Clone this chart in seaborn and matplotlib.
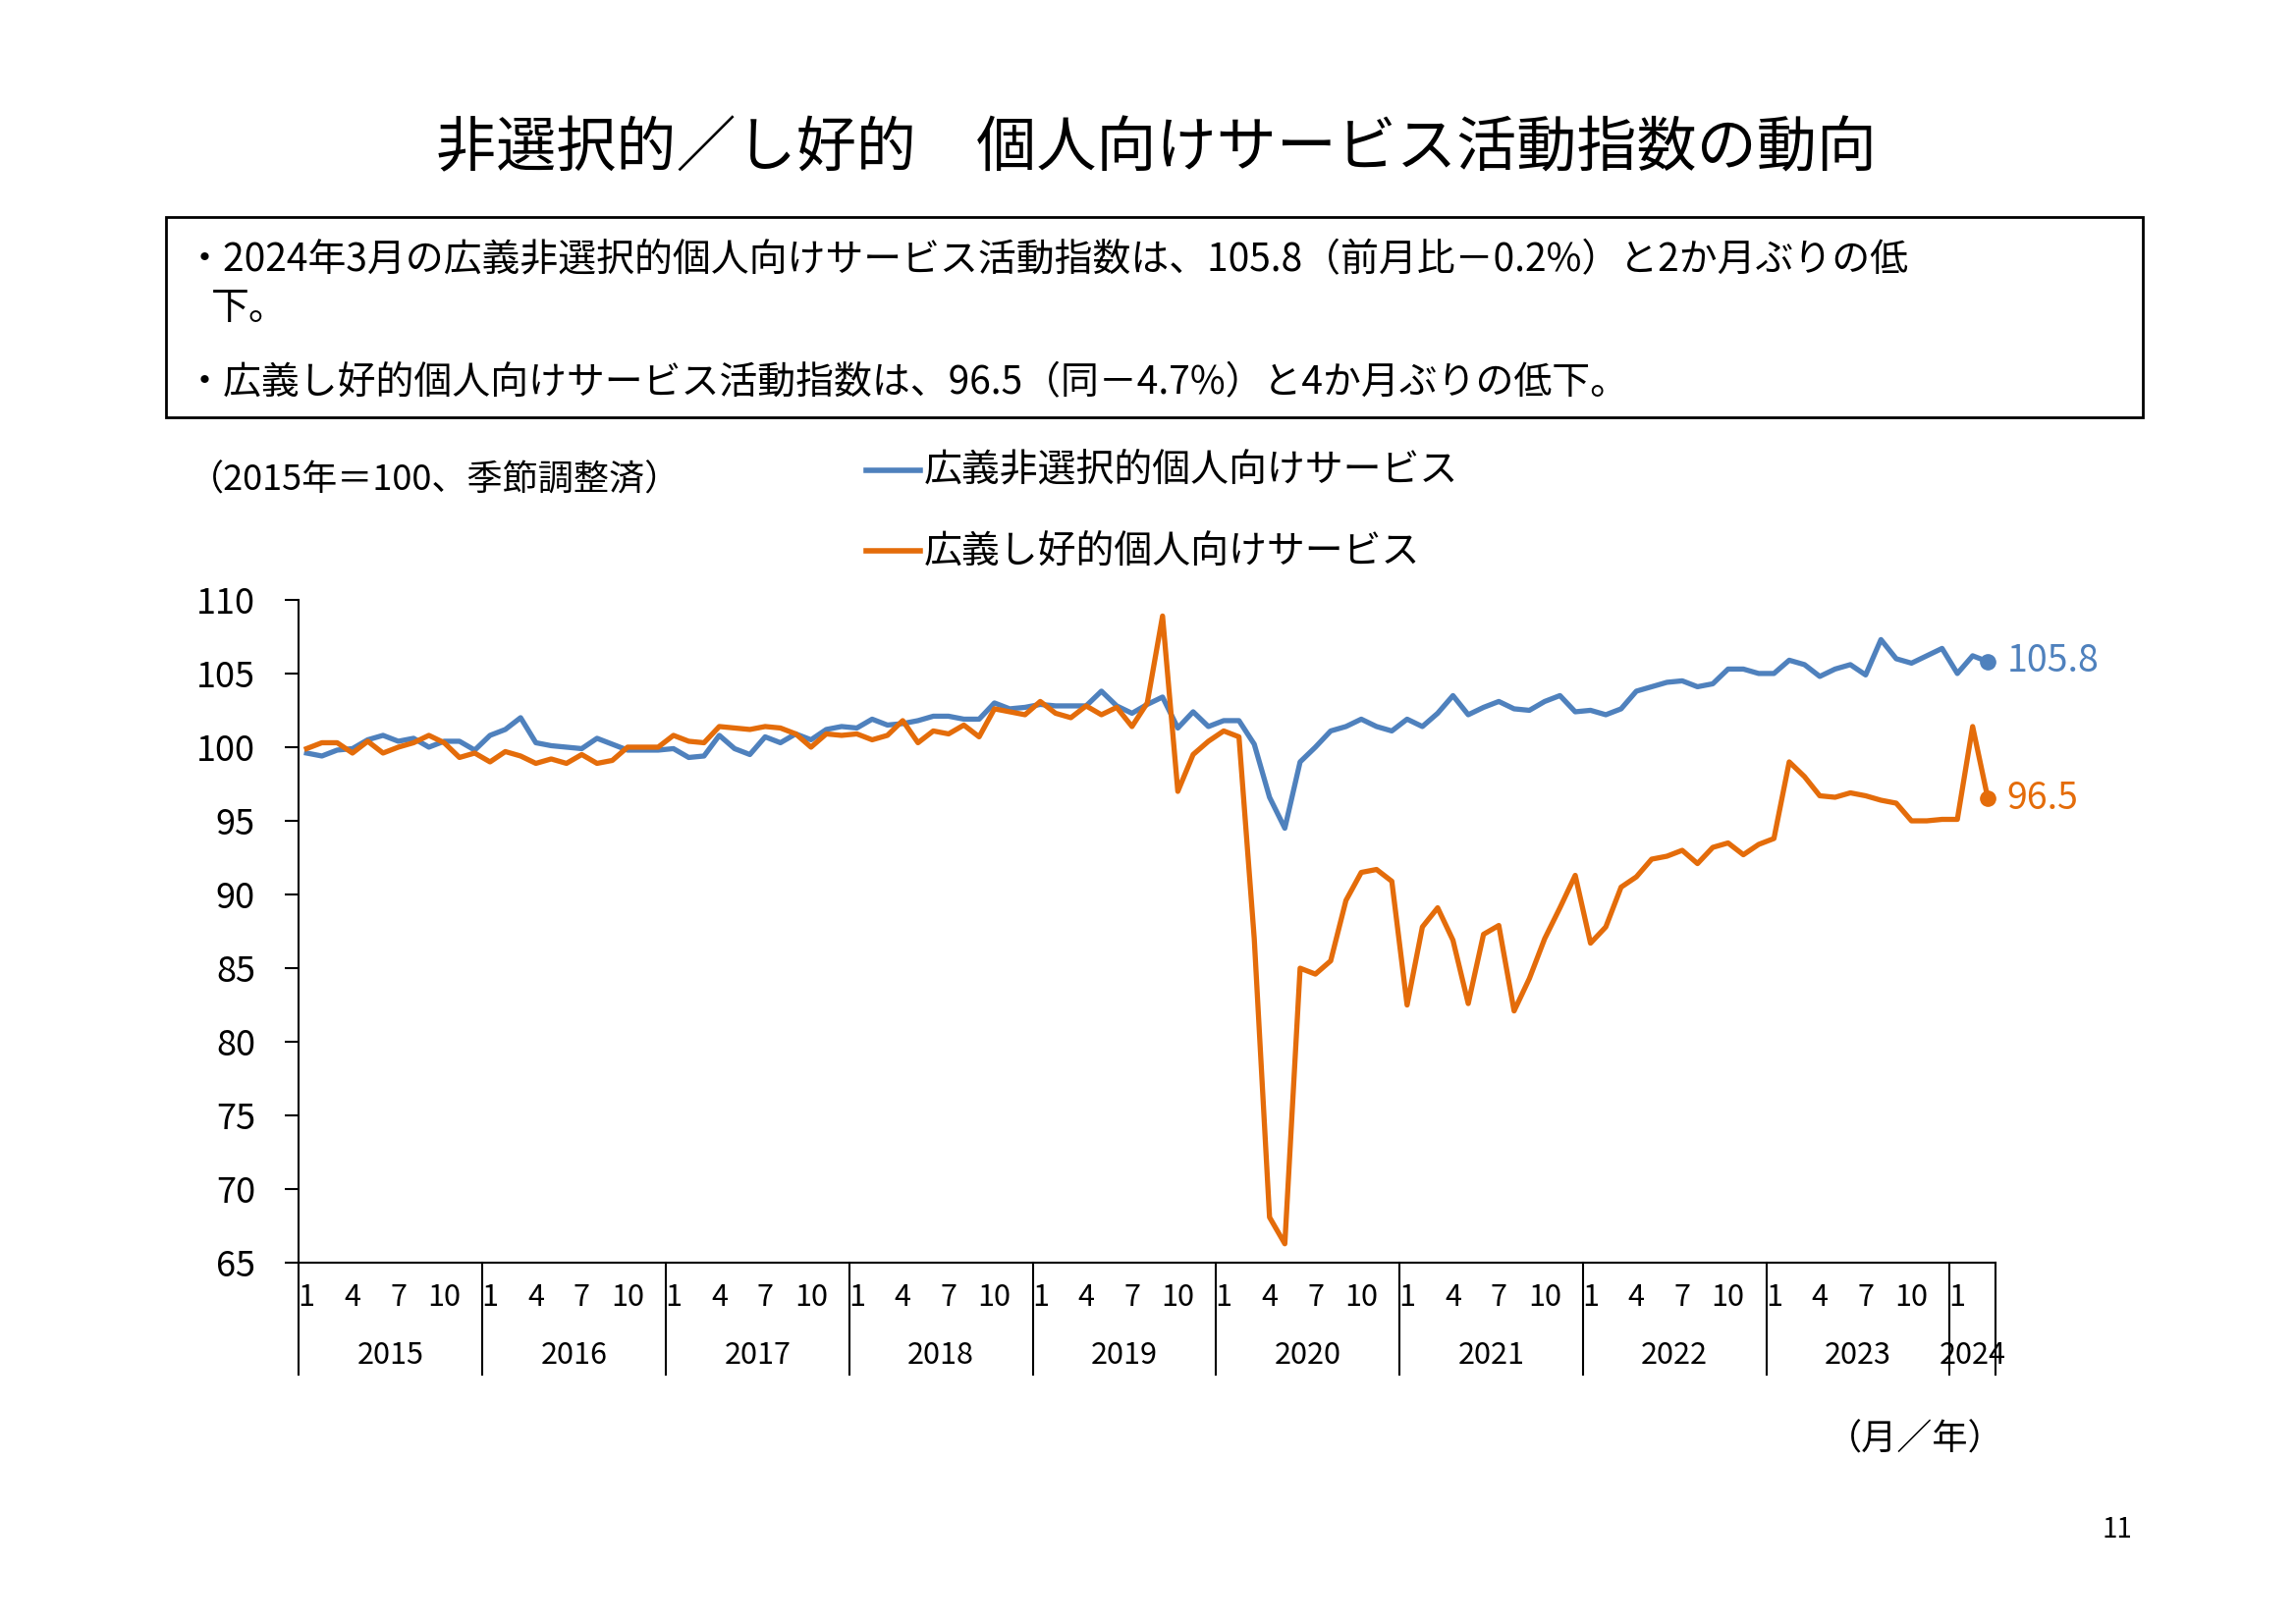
import matplotlib
matplotlib.use("Agg")
import matplotlib.pyplot as plt
import matplotlib.transforms as mtransforms
from matplotlib.lines import Line2D
from matplotlib.patches import Rectangle
import numpy as np
import pandas as pd
import seaborn as sns

plt.rcParams["font.family"] = ["Noto Sans CJK JP", "DejaVu Sans"]

# Monthly index, Jan 2015 - Mar 2024 (2015 = 100, seasonally adjusted)
years = list(range(2015, 2025))
month_ticks = [1, 4, 7, 10]

non_selective = [
    99.6, 99.4, 99.8, 99.9, 100.5, 100.8, 100.4, 100.6, 100.0, 100.4, 100.4, 99.8,
    100.8, 101.2, 102.0, 100.3, 100.1, 100.0, 99.9, 100.6, 100.2, 99.8, 99.8, 99.8,
    99.9, 99.3, 99.4, 100.8, 99.9, 99.5, 100.7, 100.3, 100.9, 100.5, 101.2, 101.4,
    101.3, 101.9, 101.5, 101.6, 101.8, 102.1, 102.1, 101.9, 101.9, 103.0, 102.6, 102.7,
    102.9, 102.8, 102.8, 102.8, 103.8, 102.8, 102.3, 102.9, 103.4, 101.3, 102.4, 101.4,
    101.8, 101.8, 100.2, 96.6, 94.5, 99.0, 100.0, 101.1, 101.4, 101.9, 101.4, 101.1,
    101.9, 101.4, 102.3, 103.5, 102.2, 102.7, 103.1, 102.6, 102.5, 103.1, 103.5, 102.4,
    102.5, 102.2, 102.6, 103.8, 104.1, 104.4, 104.5, 104.1, 104.3, 105.3, 105.3, 105.0,
    105.0, 105.9, 105.6, 104.8, 105.3, 105.6, 104.9, 107.3, 106.0, 105.7, 106.2, 106.7,
    105.0, 106.2, 105.8,
]
hobby = [
    99.9, 100.3, 100.3, 99.6, 100.4, 99.6, 100.0, 100.3, 100.8, 100.3, 99.3, 99.6,
    99.0, 99.7, 99.4, 98.9, 99.2, 98.9, 99.5, 98.9, 99.1, 100.0, 100.0, 100.0,
    100.8, 100.4, 100.3, 101.4, 101.3, 101.2, 101.4, 101.3, 100.9, 100.0, 100.9, 100.8,
    100.9, 100.5, 100.8, 101.8, 100.3, 101.1, 100.9, 101.5, 100.7, 102.6, 102.4, 102.2,
    103.1, 102.3, 102.0, 102.8, 102.2, 102.7, 101.4, 103.0, 108.9, 97.0, 99.5, 100.4,
    101.1, 100.7, 87.0, 68.1, 66.3, 85.0, 84.6, 85.5, 89.6, 91.5, 91.7, 90.9,
    82.5, 87.8, 89.1, 86.9, 82.6, 87.3, 87.9, 82.1, 84.3, 87.0, 89.1, 91.3,
    86.7, 87.8, 90.5, 91.2, 92.4, 92.6, 93.0, 92.1, 93.2, 93.5, 92.7, 93.4,
    93.8, 99.0, 98.0, 96.7, 96.6, 96.9, 96.7, 96.4, 96.2, 95.0, 95.0, 95.1,
    95.1, 101.4, 96.5,
]
series_names = ["広義非選択的個人向けサービス", "広義し好的個人向けサービス"]
colors = ["#4F81BD", "#E46C0A"]

W, H = 1559.0, 1102.0  # layout measured on reference


def fx(x):
    return x / W


def fy(y):
    return 1 - y / H


n = len(non_selective)
df = pd.DataFrame({
    "k": list(range(n)) * 2,
    "value": non_selective + hobby,
    "series": [series_names[0]] * n + [series_names[1]] * n,
})

fig = plt.figure(figsize=(23.38, 16.54), dpi=100)
ax = fig.add_axes([fx(203), fy(857), fx(1355) - fx(203), fy(407) - fy(857)])
sns.lineplot(data=df, x="k", y="value", hue="series", palette=colors, linewidth=3.8,
             ax=ax, legend=False)

last = n - 1
for vals, c, dy in [(non_selective, colors[0], 0), (hobby, colors[1], 0)]:
    ax.plot(last, vals[-1], "o", color=c, markersize=11)
    ax.annotate(f"{vals[-1]:.1f}", (last, vals[-1]), xytext=(14, dy), textcoords="offset points",
                color=c, fontsize=27, va="center", ha="left", annotation_clip=False)

ax.set_xlim(-0.5, 110.5)
ax.set_ylim(65, 110)
ax.set_yticks(np.arange(65, 111, 5))
ax.tick_params(axis="y", labelsize=26, length=10, width=1.5, direction="out", pad=22)
ax.spines["top"].set_visible(False)
ax.spines["right"].set_visible(False)
for s in ("left", "bottom"):
    ax.spines[s].set_linewidth(1.5)
ax.set_xlabel("")
ax.set_ylabel("")

# month ticks and year labels
pos, labs = [], []
for i, yr in enumerate(years):
    for m in month_ticks:
        k = i * 12 + m - 1
        if k < n:
            pos.append(k)
            labs.append(str(m))
ax.set_xticks(pos)
ax.set_xticklabels(labs)
ax.tick_params(axis="x", labelsize=22, length=0, pad=14)

trans = mtransforms.blended_transform_factory(ax.transData, ax.transAxes)
for i, yr in enumerate(years):
    start = i * 12 - 0.5
    end = min(start + 12, 110.5)
    ax.plot([start, start], [0, -0.169], color="black", lw=1.5, transform=trans, clip_on=False)
    ax.text((start + end) / 2, -0.14, str(yr), transform=trans, ha="center", va="center",
            fontsize=22)
ax.plot([110.5, 110.5], [0, -0.169], color="black", lw=1.5, transform=trans, clip_on=False)

# title and summary box
fig.text(fx(785), fy(101), "非選択的／し好的　個人向けサービス活動指数の動向", ha="center",
         va="center", fontsize=44)
fig.add_artist(Rectangle((fx(113), fy(283)), fx(1455) - fx(113), fy(147) - fy(283),
                         transform=fig.transFigure, fill=False, lw=2, ec="black"))
fig.text(fx(126), fy(177), "・2024年3月の広義非選択的個人向けサービス活動指数は、105.8（前月比－0.2%）と2か月ぶりの低",
         va="center", fontsize=28)
fig.text(fx(143), fy(209), "下。", va="center", fontsize=28)
fig.text(fx(126), fy(260), "・広義し好的個人向けサービス活動指数は、96.5（同－4.7%）と4か月ぶりの低下。",
         va="center", fontsize=28)

# legend and notes
fig.text(fx(128), fy(326), "（2015年＝100、季節調整済）", va="center", fontsize=26)
for y, c, name in [(319, colors[0], series_names[0]), (374, colors[1], series_names[1])]:
    fig.add_artist(Line2D([fx(588), fx(625)], [fy(y), fy(y)], color=c, lw=4,
                          transform=fig.transFigure))
    fig.text(fx(627), fy(y), name, va="center", fontsize=28)
fig.text(fx(1240), fy(977), "（月／年）", va="center", fontsize=26)
fig.text(fx(1448), fy(1038), "11", va="center", ha="right", fontsize=20)

fig.savefig("out.png", dpi=100)
